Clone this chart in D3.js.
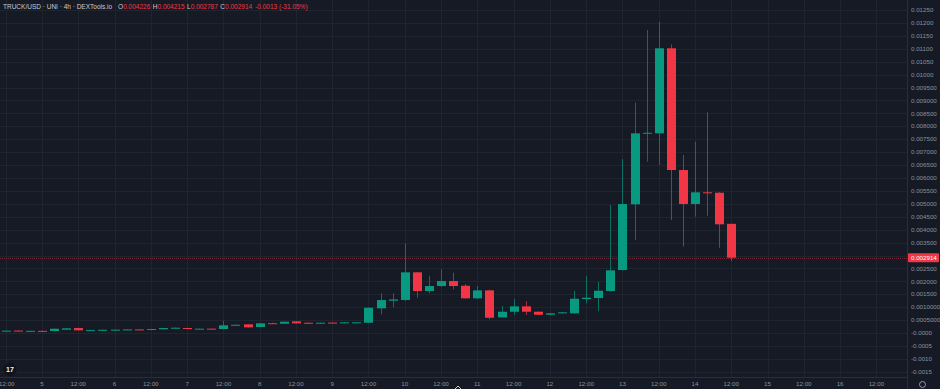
<!DOCTYPE html>
<html>
<head>
<meta charset="utf-8">
<script src="https://cdn.jsdelivr.net/npm/d3@7"></script>
<style>
  html, body { margin: 0; padding: 0; background: #161a25; }
  svg { display: block; font-family: "Liberation Sans", "DejaVu Sans", sans-serif; }
</style>
</head>
<body>
<div id="chart"></div>
<script>
// --> DATA (4h candles, first one at day 4 12:00)
var opens  = [0.000085, 0.000095, 0.000080, 0.000085, 0.000078, 0.000128, 0.000193, 0.000105, 0.000115, 0.000122,
              0.000135, 0.000140, 0.000120, 0.000145, 0.000200, 0.000195, 0.000160, 0.000170, 0.000155, 0.000300,
              0.000336, 0.000232, 0.000380, 0.000360, 0.000452, 0.000399, 0.000375, 0.000405, 0.000387, 0.000395,
              0.000399, 0.000956, 0.001250, 0.001277, 0.002349, 0.001625, 0.001819, 0.002012, 0.001830, 0.001343,
              0.001652, 0.000608, 0.000824, 0.001033, 0.000824, 0.000708, 0.000762, 0.000762, 0.001316, 0.001354,
              0.001625, 0.002438, 0.004981, 0.007720, 0.007728, 0.011018, 0.006308, 0.004992, 0.005445, 0.005430,
              0.004226];
var highs  = [0.000100, 0.000105, 0.000092, 0.000095, 0.000175, 0.000195, 0.000205, 0.000118, 0.000132, 0.000138,
              0.000148, 0.000148, 0.000162, 0.000200, 0.000215, 0.000205, 0.000175, 0.000178, 0.000476, 0.000335,
              0.000350, 0.000385, 0.000400, 0.000445, 0.000460, 0.000410, 0.000405, 0.000412, 0.000420, 0.000420,
              0.000990, 0.001536, 0.001536, 0.003471, 0.002370, 0.002217, 0.002465, 0.002334, 0.001896, 0.001819,
              0.001680, 0.001045, 0.001316, 0.001238, 0.000840, 0.000770, 0.000810, 0.001637, 0.002206, 0.001985,
              0.004954, 0.006734, 0.008913, 0.011726, 0.012047, 0.011173, 0.006889, 0.007403, 0.008541, 0.005450,
              0.004226];
var lows   = [0.000078, 0.000082, 0.000075, 0.000072, 0.000070, 0.000120, 0.000098, 0.000098, 0.000108, 0.000115,
              0.000128, 0.000122, 0.000112, 0.000140, 0.000190, 0.000150, 0.000152, 0.000150, 0.000148, 0.000290,
              0.000210, 0.000225, 0.000360, 0.000350, 0.000365, 0.000365, 0.000365, 0.000385, 0.000380, 0.000385,
              0.000390, 0.000724, 0.000995, 0.001250, 0.001366, 0.001536, 0.001792, 0.001691, 0.001330, 0.001320,
              0.000530, 0.000580, 0.000697, 0.000697, 0.000685, 0.000695, 0.000750, 0.000750, 0.001150, 0.000851,
              0.001600, 0.002420, 0.003599, 0.006629, 0.006502, 0.004373, 0.003340, 0.004501, 0.004539, 0.003301,
              0.002787];
var closes = [0.000092, 0.000088, 0.000085, 0.000078, 0.000166, 0.000182, 0.000105, 0.000112, 0.000125, 0.000130,
              0.000140, 0.000128, 0.000155, 0.000193, 0.000205, 0.000160, 0.000168, 0.000160, 0.000298, 0.000320,
              0.000220, 0.000375, 0.000370, 0.000437, 0.000375, 0.000375, 0.000399, 0.000395, 0.000414, 0.000414,
              0.000979, 0.001277, 0.001300, 0.002349, 0.001625, 0.001819, 0.002012, 0.001819, 0.001343, 0.001652,
              0.000592, 0.000824, 0.001033, 0.000824, 0.000708, 0.000762, 0.000801, 0.001327, 0.001366, 0.001637,
              0.002426, 0.004992, 0.007728, 0.007750, 0.011018, 0.006308, 0.004992, 0.005445, 0.005406, 0.004207,
              0.002914];

// y axis ticks and their (TradingView style) labels
var yTickValues = [0.0125, 0.012, 0.0115, 0.011, 0.0105, 0.01, 0.0095, 0.009, 0.0085, 0.008, 0.0075, 0.007,
                   0.0065, 0.006, 0.0055, 0.005, 0.0045, 0.004, 0.0035, 0.003, 0.0025, 0.002, 0.0015, 0.001,
                   0.0005, 0, -0.0005, -0.001, -0.0015];
var yTickLabels = ["0.01250", "0.01200", "0.01150", "0.01100", "0.01050", "0.01000", "0.009500", "0.009000",
                   "0.008500", "0.008000", "0.007500", "0.007000", "0.006500", "0.006000", "0.005500", "0.005000",
                   "0.004500", "0.004000", "0.003500", "0.003000", "0.002500", "0.002000", "0.001500", "0.0010000",
                   "0.0005000", "-0.0000", "-0.0005", "-0.0010", "-0.0015"];

// x axis ticks: hours since day 5 00:00
var xTickHours  = [-12, 0, 12, 24, 36, 48, 60, 72, 84, 96, 108, 120, 132, 144, 156, 168, 180, 192, 204, 216, 228, 240, 252, 264, 276];
var xTickLabels = ["12:00", "5", "12:00", "6", "12:00", "7", "12:00", "8", "12:00", "9", "12:00", "10", "12:00",
                   "11", "12:00", "12", "12:00", "13", "12:00", "14", "12:00", "15", "12:00", "16", "12:00"];

var firstCandleHour = -12,
    candleHours = 4;

var lastPrice = 0.002914;
var headerTitle = "TRUCK/USD · UNI · 4h · DEXTools.io";
var headerValues = [["O", "0.004226"], ["H", "0.004215"], ["L", "0.002787"], ["C", "0.002914"]];
var headerChange = "-0.0013 (-31.05%)";

// --> SVG DRAWING AREA
var width = 940,
    height = 389,
    plotRight = 907,
    plotBottom = 377;

var green = "#089981",
    red = "#f23645",
    gridColor = "#1f2431",
    textColor = "#8b909c";

var svg = d3.select("#chart").append("svg")
    .attr("width", width)
    .attr("height", height);

svg.append("rect")
    .attr("width", width)
    .attr("height", height)
    .attr("fill", "#161a25");

var x = d3.scaleLinear()
    .domain([0, 264])
    .range([42, 840.1]);

var y = d3.scaleLinear()
    .domain([-0.0015, 0.0125])
    .range([371.8, 10]);

// grid
svg.append("g").selectAll("line")
    .data(yTickValues)
    .enter().append("line")
    .attr("x1", 0).attr("x2", plotRight)
    .attr("y1", function(d) { return Math.round(y(d)) + 0.5; })
    .attr("y2", function(d) { return Math.round(y(d)) + 0.5; })
    .attr("stroke", gridColor);

svg.append("g").selectAll("line")
    .data(xTickHours)
    .enter().append("line")
    .attr("y1", 0).attr("y2", plotBottom)
    .attr("x1", function(d) { return Math.round(x(d)) + 0.5; })
    .attr("x2", function(d) { return Math.round(x(d)) + 0.5; })
    .attr("stroke", gridColor);

// last price line
svg.append("line")
    .attr("x1", 0).attr("x2", plotRight)
    .attr("y1", Math.round(y(lastPrice)) + 0.5)
    .attr("y2", Math.round(y(lastPrice)) + 0.5)
    .attr("stroke", red)
    .attr("stroke-opacity", 0.45)
    .attr("stroke-dasharray", "1,1");

// candles
var candles = opens.map(function(o, i) {
    return {o: o, h: highs[i], l: lows[i], c: closes[i], t: firstCandleHour + i * candleHours};
});

var bodyW = 9;

var g = svg.append("g").selectAll("g")
    .data(candles)
    .enter().append("g")
    .attr("fill", function(d) { return d.c >= d.o ? green : red; })
    .attr("stroke", function(d) { return d.c >= d.o ? green : red; });

g.append("line")
    .attr("x1", function(d) { return Math.round(x(d.t)) + 0.5; })
    .attr("x2", function(d) { return Math.round(x(d.t)) + 0.5; })
    .attr("y1", function(d) { return y(d.h); })
    .attr("y2", function(d) { return y(d.l); })
    .attr("stroke-width", 1)
    .attr("stroke-opacity", 0.65);

g.append("rect")
    .attr("x", function(d) { return Math.round(x(d.t)) - (bodyW - 1) / 2; })
    .attr("width", bodyW)
    .attr("y", function(d) { return y(Math.max(d.o, d.c)); })
    .attr("height", function(d) { return Math.max(1, Math.abs(y(d.o) - y(d.c))); })
    .attr("stroke", "none");

// axis panels
svg.append("rect")
    .attr("x", plotRight).attr("y", 0)
    .attr("width", width - plotRight).attr("height", height)
    .attr("fill", "#161a25");
svg.append("rect")
    .attr("x", 0).attr("y", plotBottom)
    .attr("width", width).attr("height", height - plotBottom)
    .attr("fill", "#161a25");

svg.append("line")
    .attr("x1", plotRight + 0.5).attr("x2", plotRight + 0.5)
    .attr("y1", 0).attr("y2", height)
    .attr("stroke", "#2a2e39");
svg.append("line")
    .attr("x1", 0).attr("x2", plotRight)
    .attr("y1", plotBottom + 0.5).attr("y2", plotBottom + 0.5)
    .attr("stroke", "#2a2e39");

// y labels
svg.append("g").selectAll("text")
    .data(yTickValues)
    .enter().append("text")
    .filter(function(d) { return Math.abs(y(d) - y(lastPrice)) > 6; })
    .attr("x", plotRight + 4)
    .attr("y", function(d) { return y(d) + 2.2; })
    .attr("font-size", "6.2px")
    .attr("fill", textColor)
    .text(function(d) { return yTickLabels[yTickValues.indexOf(d)]; });

// last price tag
svg.append("rect")
    .attr("x", plotRight + 1).attr("y", y(lastPrice) - 4.5)
    .attr("width", 31).attr("height", 9)
    .attr("rx", 1)
    .attr("fill", red);
svg.append("text")
    .attr("x", plotRight + 4).attr("y", y(lastPrice) + 2.2)
    .attr("font-size", "6.2px")
    .attr("fill", "#ffffff")
    .text(d3.format(".6f")(lastPrice));

// x labels
svg.append("g").selectAll("text")
    .data(xTickHours)
    .enter().append("text")
    .attr("x", function(d) { return Math.max(6.8, x(d)); })
    .attr("y", 386)
    .attr("text-anchor", "middle")
    .attr("font-size", "6.2px")
    .attr("fill", textColor)
    .text(function(d, i) { return xTickLabels[i]; });

// header legend
var header = svg.append("text")
    .attr("x", 3)
    .attr("y", 9)
    .attr("font-size", "6.5px");
header.append("tspan").attr("fill", "#c8cbd3").text(headerTitle);
headerValues.forEach(function(p, i) {
    header.append("tspan").attr("fill", "#c8cbd3").attr("dx", i === 0 ? 6 : 2.5).text(p[0]);
    header.append("tspan").attr("fill", red).text(p[1]);
});
header.append("tspan").attr("fill", red).attr("dx", 3).text(headerChange);

// small icons: logo bottom-left, scroll arrow, settings
svg.append("circle").attr("cx", 10).attr("cy", 369.5).attr("r", 6.5).attr("fill", "#10131b");
svg.append("text").attr("x", 10).attr("y", 372).attr("text-anchor", "middle")
    .attr("font-size", "7px").attr("font-weight", "bold").attr("fill", "#f0f0f2").text("17");
svg.append("path")
    .attr("d", "M455,389 L458,386 L461,389")
    .attr("fill", "none").attr("stroke", "#c8cbd3").attr("stroke-width", 1);
svg.append("circle").attr("cx", 922.5).attr("cy", 384.5).attr("r", 3)
    .attr("fill", "none").attr("stroke", "#b2b5be").attr("stroke-width", 0.8);
</script>
</body>
</html>
